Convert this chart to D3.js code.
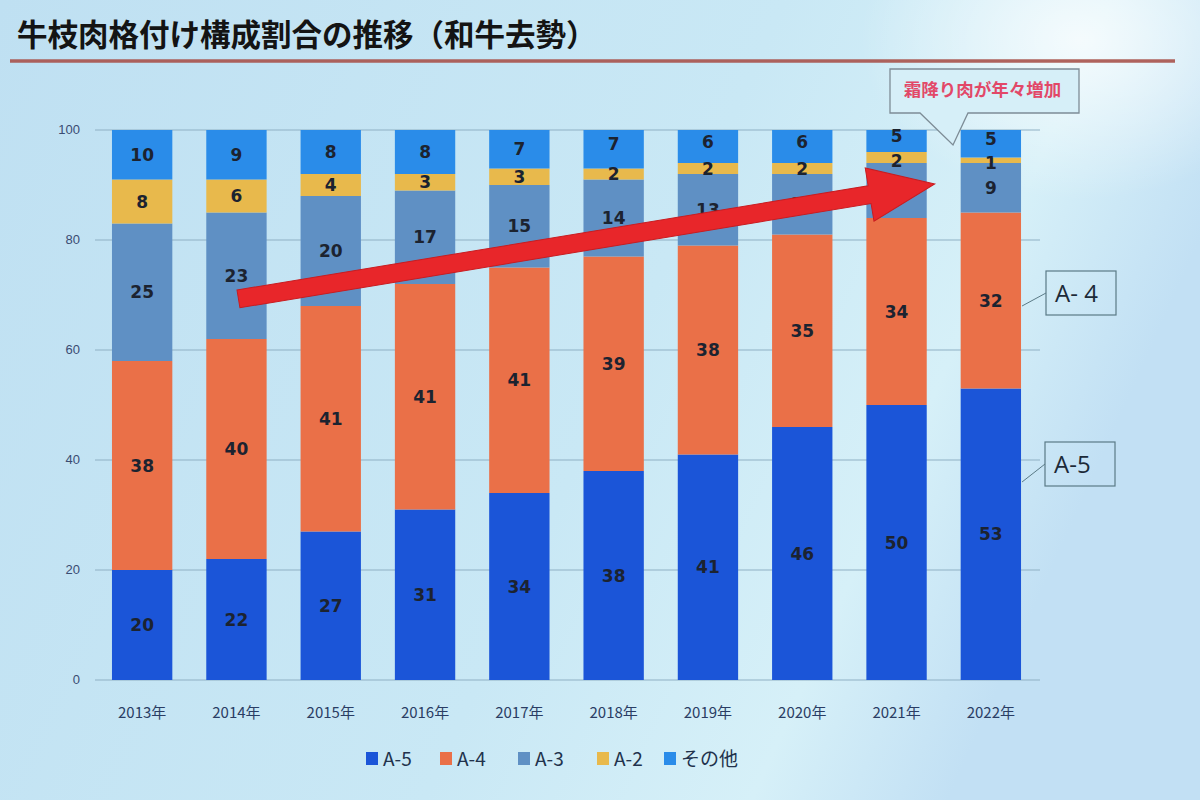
<!DOCTYPE html>
<html><head><meta charset="utf-8">
<script src="https://cdn.jsdelivr.net/npm/d3@7"></script>
<style>
html,body{margin:0;padding:0;}
body{width:1200px;height:800px;overflow:hidden;font-family:"Noto Sans CJK JP","Noto Sans",sans-serif;}
</style></head>
<body><svg id="chart" width="1200" height="800"></svg>
<script>
const years = ["2013年","2014年","2015年","2016年","2017年","2018年","2019年","2020年","2021年","2022年"];
const seriesNames = ["A-5","A-4","A-3","A-2","その他"];
const a5 = [20,22,27,31,34,38,41,46,50,53];
const a4 = [38,40,41,41,41,39,38,35,34,32];
const a3 = [25,23,20,17,15,14,13,11,10,9];
const a2 = [8,6,4,3,3,2,2,2,2,1];
const other = [10,9,8,8,7,7,6,6,5,5];
const yTicks = [0,20,40,60,80,100];
const colors = ["#1b55d8","#ea7048","#5f90c4","#e8b94c","#2a8ce9"];
const title = "牛枝肉格付け構成割合の推移（和牛去勢）";
const callout = "霜降り肉が年々増加";

const svg = d3.select("#chart");
const defs = svg.append("defs");
const bg = defs.append("linearGradient").attr("id","bg").attr("x1","0").attr("y1","0").attr("x2","1").attr("y2","0.3");
bg.append("stop").attr("offset","0").attr("stop-color","#bfe0f2");
bg.append("stop").attr("offset","0.6").attr("stop-color","#c9e8f5");
bg.append("stop").attr("offset","0.85").attr("stop-color","#d6f0f8");
bg.append("stop").attr("offset","1").attr("stop-color","#c2e0f4");
svg.append("rect").attr("width",1200).attr("height",800).attr("fill","url(#bg)");
const glare = defs.append("radialGradient").attr("id","glare").attr("cx","0.5").attr("cy","0.5").attr("r","0.5");
glare.append("stop").attr("offset","0").attr("stop-color","#ffffff").attr("stop-opacity",0.75);
glare.append("stop").attr("offset","1").attr("stop-color","#ffffff").attr("stop-opacity",0);
svg.append("ellipse").attr("cx",1080).attr("cy",40).attr("rx",220).attr("ry",160).attr("fill","url(#glare)");

// title
svg.append("text").attr("x",17).attr("y",46).text(title)
  .attr("font-size",30.5).attr("font-weight",700).attr("fill","#141414");
svg.append("line").attr("x1",10).attr("x2",1175).attr("y1",61).attr("y2",61)
  .attr("stroke","#a9534c").attr("stroke-width",3.5).attr("opacity",0.9);

const x = d3.scaleBand().domain(years).range([95,1038]).paddingInner(0.36).paddingOuter(0.18);
const y = d3.scaleLinear().domain([0,100]).range([680,130]);

// grid
svg.append("g").selectAll("line").data(yTicks).join("line")
  .attr("x1",95).attr("x2",1040).attr("y1",d=>y(d)).attr("y2",d=>y(d))
  .attr("stroke","#8fb0c4").attr("stroke-width",1);
svg.append("g").selectAll("text").data(yTicks).join("text")
  .attr("x",80).attr("y",d=>y(d)+4).attr("text-anchor","end")
  .attr("font-size",13).attr("fill","#3a4c72").attr("font-family","Liberation Sans, sans-serif").text(d=>d);

// stack
const rows = years.map((yr,i)=>({year:yr,"A-5":a5[i],"A-4":a4[i],"A-3":a3[i],"A-2":a2[i],"その他":other[i]}));
const stack = d3.stack().keys(seriesNames)(rows);
const gBars = svg.append("g");
stack.forEach((s,si)=>{
  gBars.append("g").selectAll("rect").data(s).join("rect")
    .attr("x",d=>x(d.data.year)).attr("width",x.bandwidth())
    .attr("y",d=>y(Math.min(d[1],100))).attr("height",d=>y(d[0])-y(Math.min(d[1],100)))
    .attr("fill",colors[si]);
});
stack.forEach((s,si)=>{
  gBars.append("g").selectAll("text").data(s).join("text")
    .attr("x",d=>x(d.data.year)+x.bandwidth()/2)
    .attr("y",(d,i)=>{
      const t=Math.min(d[1],100);
      let c=(y(d[0])+y(t))/2+6;
      if(si>0){const below=stack[si-1][i]; if(below[1]-below[0]<=2) c-=5;}
      if(d[1]-d[0]<=2 && si<seriesNames.length-1){const above=stack[si+1][i]; if(above[1]-above[0]<=5) c+=3;}
      return c;})
    .attr("text-anchor","middle").attr("font-size",17).attr("font-weight",700)
    .attr("fill","#1c2330").attr("font-family","DejaVu Sans, sans-serif")
    .text(d=>d[1]-d[0]);
});

// x labels
svg.append("g").selectAll("text").data(years).join("text")
  .attr("x",d=>x(d)+x.bandwidth()/2).attr("y",718).attr("text-anchor","middle")
  .attr("font-size",15).attr("fill","#2a3d64").text(d=>d);

// red arrow
const ax0 = x("2014年")+x.bandwidth()/2+2, ay0 = y(69.3);
const ax1 = x("2021年")+x.bandwidth()+8, ay1 = y(90.2);
const ang = Math.atan2(ay1-ay0, ax1-ax0);
const len = Math.hypot(ax1-ax0, ay1-ay0);
const sw = 9, hl = 66, hw = 27;
const arrowPts = [[0,-sw],[len-hl,-sw],[len-hl,-hw],[len,0],[len-hl,hw],[len-hl,sw],[0,sw]];
svg.append("polygon")
  .attr("points",arrowPts.map(p=>p.join(",")).join(" "))
  .attr("transform",`translate(${ax0},${ay0}) rotate(${ang*180/Math.PI})`)
  .attr("fill","#e8262a").attr("stroke","#c81c20").attr("stroke-width",1);

// callout
const cx0 = 890, cy0 = 69, cw = 189, ch = 44;
svg.append("path")
  .attr("d",`M${cx0},${cy0} H${cx0+cw} V${cy0+ch} H${cx0+78} L${cx0+63},${cy0+ch+32} L${cx0+30},${cy0+ch} H${cx0} Z`)
  .attr("fill","#d6eff8").attr("stroke","#7d8c96").attr("stroke-width",1.3);
svg.append("text").attr("x",cx0+cw/2-2).attr("y",cy0+27).attr("text-anchor","middle")
  .attr("font-size",17.5).attr("font-weight",700).attr("fill","#e24868").text(callout);

// A-4 / A-5 label boxes
const barRight = x("2022年")+x.bandwidth();
function labelBox(txt, bx, by, lineY){
  svg.append("line").attr("x1",barRight+1).attr("y1",lineY).attr("x2",bx).attr("y2",by+22)
    .attr("stroke","#5a7a86").attr("stroke-width",1);
  svg.append("rect").attr("x",bx).attr("y",by).attr("width",70).attr("height",44)
    .attr("fill","none").attr("stroke","#5a7a86").attr("stroke-width",1.2);
  svg.append("text").attr("x",bx+9).attr("y",by+31).attr("font-size",24)
    .attr("fill","#1c2a38").attr("font-family","Open Sans, sans-serif").text(txt);
}
labelBox("A- 4",1046,271,y(68));
labelBox("A-5",1045,442,y(36));

// legend
const lg = svg.append("g");
const legX = [366,440,518,597,664];
seriesNames.forEach((n,i)=>{
  lg.append("rect").attr("x",legX[i]).attr("y",752).attr("width",12).attr("height",13).attr("fill",colors[i]);
  lg.append("text").attr("x",legX[i]+17).attr("y",766).attr("font-size",19)
    .attr("fill","#22324c").text(n);
});
</script></body></html>
